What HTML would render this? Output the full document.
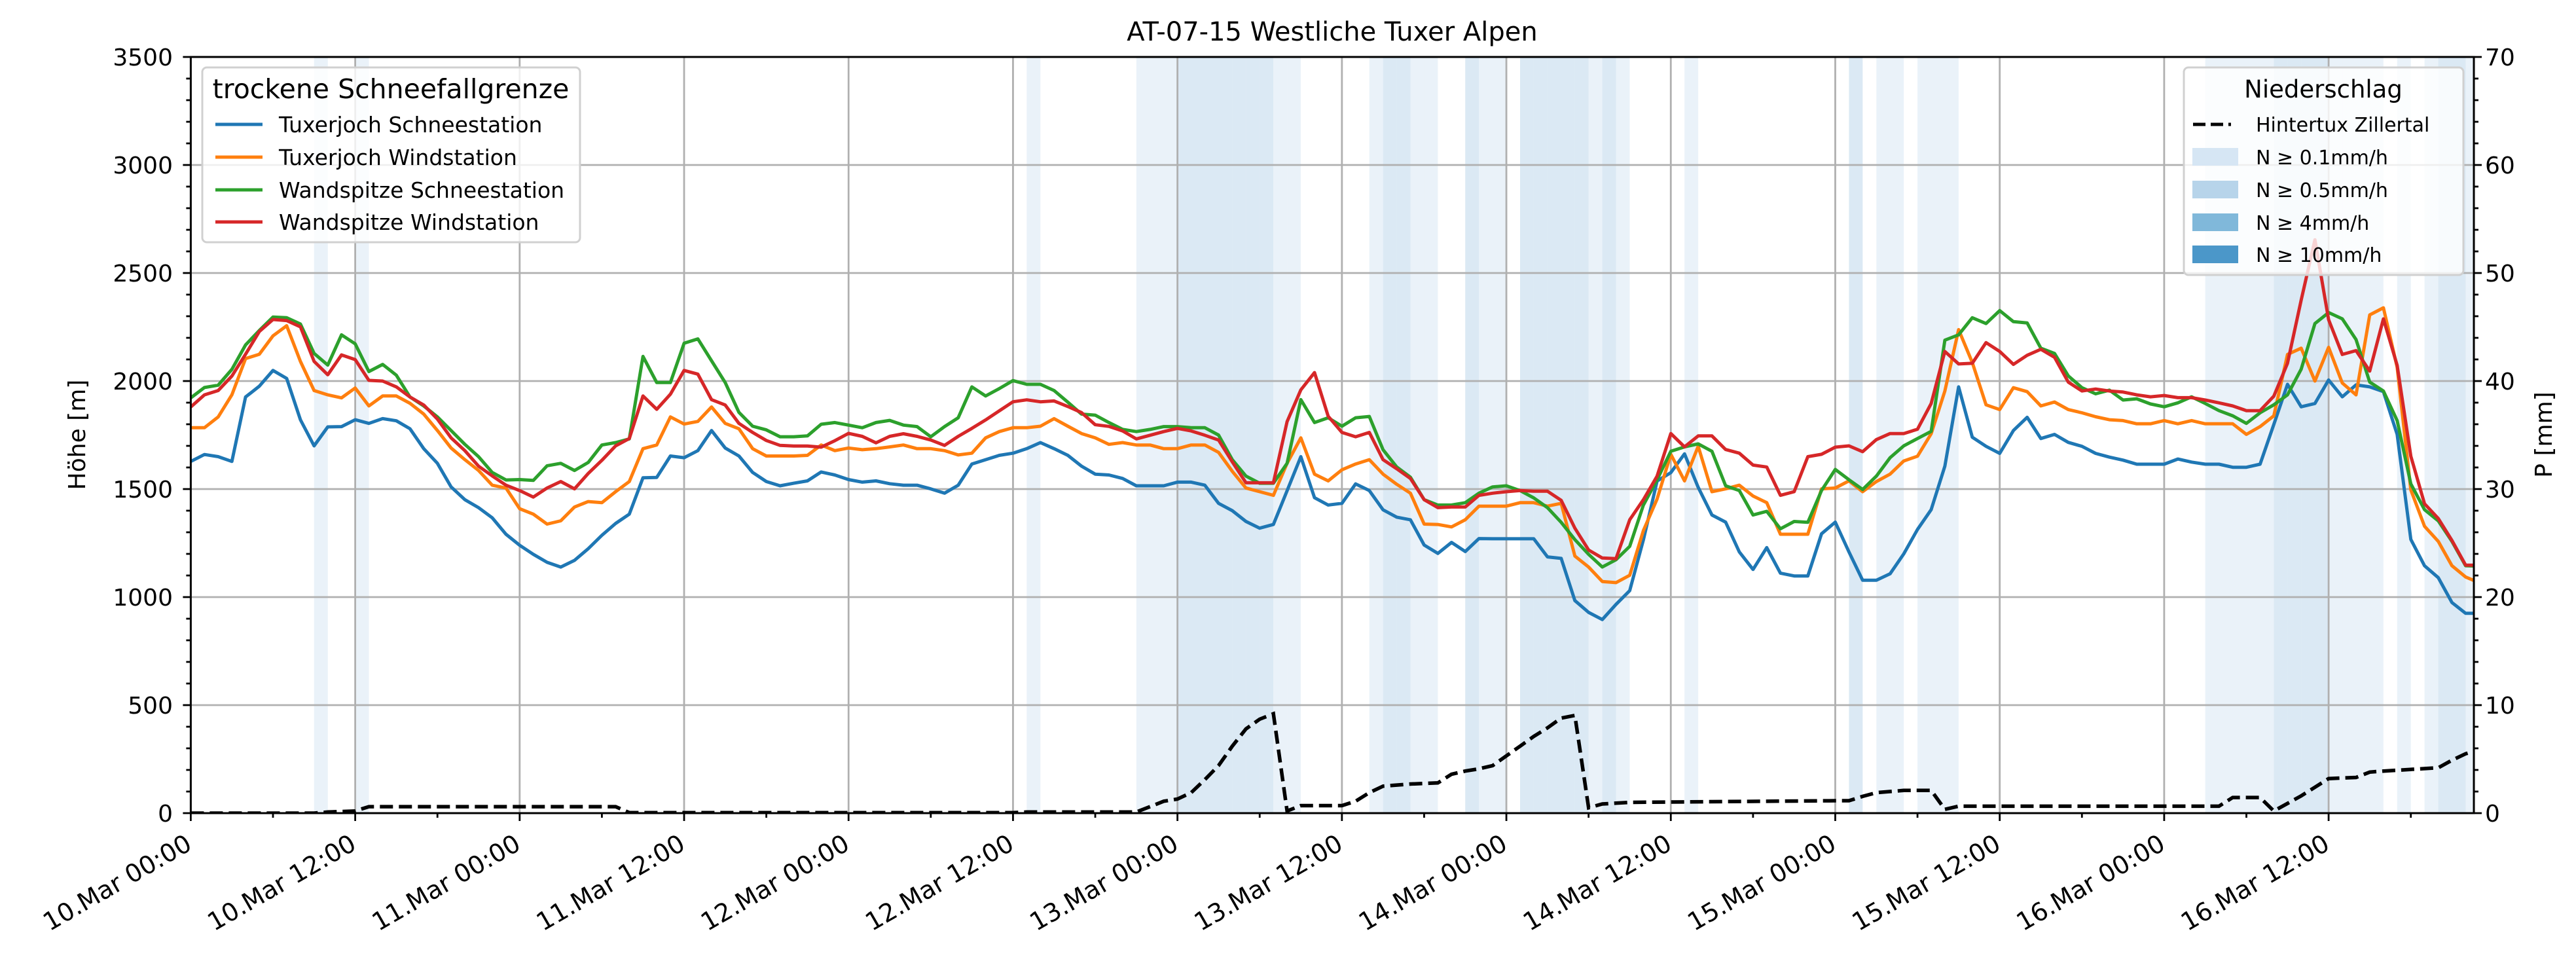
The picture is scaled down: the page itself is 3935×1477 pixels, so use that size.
<!DOCTYPE html>
<html><head><meta charset="utf-8"><style>
html,body{margin:0;padding:0;background:#fff;}
svg{display:block;font-family:"DejaVu Sans","Liberation Sans",sans-serif;}
</style></head><body>
<svg id="chart" width="3935" height="1477" viewBox="0 0 3935 1477" xmlns="http://www.w3.org/2000/svg">
<rect x="0" y="0" width="3935" height="1477" fill="#fff"/>
<defs><clipPath id="plotclip"><rect x="291.4" y="87" width="3487.6" height="1155"/></clipPath></defs>
<g id="bands" clip-path="url(#plotclip)"></g>
<g id="grid"></g>
<g id="series" clip-path="url(#plotclip)"></g>
<g id="axes"></g>
<text x="2035" y="62" font-size="40" text-anchor="middle">AT-07-15 Westliche Tuxer Alpen</text>
<text transform="translate(130,664) rotate(-90)" font-size="36" text-anchor="middle">Höhe [m]</text>
<text transform="translate(3898,664) rotate(-90)" font-size="36" text-anchor="middle">P [mm]</text>
<g id="legend-left">
<rect x="309" y="103" width="577" height="267" rx="7" fill="#fff" fill-opacity="0.8" stroke="#d0d0d0" stroke-width="3"/>
<text x="597" y="150" font-size="41" text-anchor="middle">trockene Schneefallgrenze</text>
<line x1="329" y1="190" x2="401" y2="190" stroke="#1f77b4" stroke-width="5"/>
<text x="426" y="202" font-size="33">Tuxerjoch Schneestation</text>
<line x1="329" y1="240" x2="401" y2="240" stroke="#ff7f0e" stroke-width="5"/>
<text x="426" y="252" font-size="33">Tuxerjoch Windstation</text>
<line x1="329" y1="290" x2="401" y2="290" stroke="#2ca02c" stroke-width="5"/>
<text x="426" y="302" font-size="33">Wandspitze Schneestation</text>
<line x1="329" y1="339" x2="401" y2="339" stroke="#d62728" stroke-width="5"/>
<text x="426" y="351" font-size="33">Wandspitze Windstation</text>
</g>
<g id="legend-right">
<rect x="3336" y="103" width="427" height="317" rx="7" fill="#fff" fill-opacity="0.8" stroke="#d0d0d0" stroke-width="3"/>
<text x="3549" y="149" font-size="37" text-anchor="middle">Niederschlag</text>
<line x1="3350" y1="190" x2="3408" y2="190" stroke="#000" stroke-width="5" stroke-dasharray="19,8"/>
<text x="3446" y="201" font-size="30">Hintertux Zillertal</text>
<rect x="3349" y="226" width="70" height="27" fill="#d6e6f4"/>
<text x="3446" y="251" font-size="30">N ≥ 0.1mm/h</text>
<rect x="3349" y="276" width="70" height="27" fill="#b7d4ea"/>
<text x="3446" y="301" font-size="30">N ≥ 0.5mm/h</text>
<rect x="3349" y="326" width="70" height="27" fill="#80b8da"/>
<text x="3446" y="351" font-size="30">N ≥ 4mm/h</text>
<rect x="3349" y="375" width="70" height="27" fill="#4b97c9"/>
<text x="3446" y="400" font-size="30">N ≥ 10mm/h</text>
</g>
</svg>
<script>
// ---- data ----
const tuxerjochSchnee = [1628,1660,1650,1628,1926,1976,2049,2012,1821,1700,1788,1789,1821,1804,1826,1816,1779,1687,1619,1510,1451,1414,1367,1291,1240,1198,1161,1139,1170,1224,1286,1341,1384,1552,1554,1653,1645,1678,1771,1690,1653,1577,1535,
1515,1527,1538,1579,1565,1544,1532,1538,1525,1518,1518,1501,1481,1518,1616,1636,1656,1666,1687,1715,1687,1656,1606,1569,1565,1549,1515,1515,1515,1532,1532,1518,1434,1400,1350,1319,1336,1492,1650,1460,1426,1434,
1524,1493,1404,1370,1358,1241,1202,1253,1211,1271,1270,1270,1270,1270,1186,1179,984,929,896,966,1030,1265,1537,1576,1663,1508,1380,1347,1209,1128,1229,1111,1098,1098,1293,1347,1209,1078,1078,1108,1200,
1313,1405,1606,1973,1740,1698,1665,1771,1832,1734,1753,1716,1698,1665,1648,1634,1615,1615,1615,1639,1625,1615,1615,1601,1601,1615,1799,1985,1881,1896,2005,1927,1982,1973,1951,1753,1267,1145,1090,975,925,925];
const tuxerjochWind = [1784,1784,1834,1936,2104,2124,2209,2256,2091,1956,1936,1922,1968,1885,1931,1931,1897,1847,1771,1690,1636,1586,1518,1505,1409,1384,1338,1353,1417,1442,1437,1488,1535,1687,1704,1834,1801,1813,1880,1804,1779,1687,1653,
1653,1653,1656,1704,1678,1690,1682,1687,1695,1704,1687,1687,1678,1658,1666,1737,1766,1784,1784,1791,1826,1791,1757,1737,1707,1715,1704,1704,1687,1687,1704,1704,1670,1582,1505,1488,1471,1619,1737,1569,1538,1589,
1616,1636,1569,1522,1481,1338,1336,1325,1358,1421,1421,1421,1437,1437,1421,1434,1190,1139,1072,1067,1101,1308,1454,1661,1538,1698,1488,1501,1518,1468,1437,1291,1291,1291,1501,1505,1538,1488,1535,1569,1630,
1652,1756,1954,2238,2086,1890,1868,1969,1951,1885,1903,1868,1853,1835,1821,1817,1802,1802,1817,1802,1817,1802,1802,1802,1753,1789,1839,2123,2152,2000,2156,1991,1936,2306,2339,2064,1496,1328,1258,1145,1093,1066];
const wandspitzeSchnee = [1922,1970,1981,2054,2167,2234,2296,2293,2264,2128,2074,2214,2172,2044,2077,2027,1926,1885,1834,1771,1707,1650,1577,1542,1544,1540,1608,1619,1586,1623,1704,1715,1732,2114,1993,1993,2175,2195,2094,1993,1855,1791,1774,
1742,1742,1746,1800,1808,1796,1784,1808,1818,1796,1789,1742,1789,1830,1973,1931,1965,2002,1985,1985,1956,1902,1847,1842,1808,1776,1766,1776,1789,1789,1784,1784,1750,1636,1560,1527,1527,1619,1914,1808,1830,1791,
1830,1836,1682,1602,1555,1451,1426,1426,1437,1481,1510,1515,1493,1459,1414,1346,1266,1198,1139,1173,1235,1426,1543,1675,1695,1709,1675,1515,1493,1380,1397,1316,1350,1346,1493,1591,1543,1498,1560,1645,1700,
1734,1767,2189,2214,2293,2266,2326,2275,2269,2152,2128,2024,1969,1941,1958,1912,1918,1894,1881,1899,1927,1896,1863,1839,1804,1853,1890,1936,2055,2266,2317,2288,2192,1995,1954,1817,1524,1405,1353,1258,1145,1143];
const wandspitzeWind = [1880,1936,1956,2023,2124,2229,2285,2280,2251,2091,2029,2121,2099,2003,2000,1973,1926,1889,1824,1737,1678,1606,1561,1518,1493,1463,1505,1535,1501,1572,1633,1700,1734,1931,1869,1939,2049,2032,1914,1889,1804,1762,1725,
1702,1699,1699,1694,1724,1758,1744,1714,1744,1756,1744,1727,1702,1744,1781,1820,1862,1904,1913,1904,1908,1882,1854,1798,1790,1769,1732,1749,1766,1781,1769,1749,1727,1626,1529,1529,1529,1812,1959,2039,1837,1762,
1742,1762,1636,1594,1549,1451,1414,1417,1417,1471,1481,1488,1493,1490,1490,1448,1319,1218,1181,1178,1358,1451,1560,1757,1695,1746,1746,1683,1666,1611,1602,1471,1488,1650,1661,1694,1700,1673,1729,1757,1757,
1777,1896,2137,2079,2082,2178,2137,2077,2119,2147,2110,1995,1954,1963,1954,1949,1936,1927,1933,1923,1923,1912,1899,1885,1863,1863,1930,2082,2375,2654,2284,2123,2141,2046,2288,2073,1652,1432,1364,1262,1148,1148];
const precipSumHours = [0,9,10,12,13,31,32,60,61,68,69,70,71,72,73,74,75,76,77,78,79,80,81,84,85,86,87,88,89,91,92,93,94,95,96,97,98,99,100,101,102,103,105,120,121,122,123,125,127,128,129,148,149,151,152,153,154,155,156,158,159,160,164,165,166,167];
const precipSumValues = [0,0,0.1,0.2,0.6,0.6,0.05,0.05,0.1,0.1,0.1,0.6,1.1,1.3,1.9,3.1,4.4,6.2,7.8,8.7,9.2,0.2,0.7,0.7,1.1,1.9,2.5,2.6,2.7,2.8,3.6,3.9,4.1,4.4,5.3,6.2,7.1,7.9,8.8,9.05,0.5,0.85,1.0,1.15,1.15,1.55,1.9,2.1,2.1,0.35,0.64,0.64,1.45,1.45,0.2,0.9,1.6,2.4,3.2,3.3,3.8,3.9,4.2,4.9,5.5,5.9];
const rainHours = [9,12,61,69,70,71,72,73,74,75,76,77,78,79,80,86,87,88,89,90,93,94,95,97,98,99,100,101,102,103,104,109,121,123,124,126,127,128,147,148,149,150,151,152,153,154,155,156,157,158,159,161,163,164,165,166];
const rainRates = [0.2,0.2,0.2,0.2,0.2,0.2,1,1,1,1,1,1,1,0.2,0.2,0.2,1,1,0.2,0.2,1,0.2,0.2,1,1,1,1,1,0.2,1,0.2,0.2,1,0.2,0.2,0.2,0.2,0.2,0.2,0.2,0.2,0.2,0.2,1,1,1,1,0.2,0.2,0.2,0.2,0.2,0.2,1,1,0.2];
const xTickLabels = ["10.Mar 00:00","10.Mar 12:00","11.Mar 00:00","11.Mar 12:00","12.Mar 00:00","12.Mar 12:00","13.Mar 00:00","13.Mar 12:00","14.Mar 00:00","14.Mar 12:00","15.Mar 00:00","15.Mar 12:00","16.Mar 00:00","16.Mar 12:00"];
const yTicks = [0,500,1000,1500,2000,2500,3000,3500];
const y2Ticks = [0,10,20,30,40,50,60,70];
const rainThresholds = [0.1,0.5,4,10];
const rainColors = ["#d6e6f4","#b7d4ea","#80b8da","#4b97c9"];

// ---- geometry ----
const L = 291.4, R = 3779, T = 87, B = 1242, XMAX = 166.6;
const xs = h => L + h * (R - L) / XMAX;
const ys = v => B - v * (B - T) / 3500;
const y2s = p => B - p * (B - T) / 70;
const NS = "http://www.w3.org/2000/svg";
function mk(tag, attrs, parent) {
  const e = document.createElementNS(NS, tag);
  for (const k in attrs) e.setAttribute(k, attrs[k]);
  parent.appendChild(e);
  return e;
}
const gB = document.getElementById("bands"), gG = document.getElementById("grid"),
      gS = document.getElementById("series"), gA = document.getElementById("axes");

// bands
rainHours.forEach((h, i) => {
  let c = -1;
  rainThresholds.forEach((t, k) => { if (rainRates[i] >= t) c = k; });
  if (c < 0) return;
  const r = mk("rect", {x: xs(h), y: T, width: xs(h + 1) - xs(h), height: B - T, fill: rainColors[c], "fill-opacity": 0.5}, gB);
  
  
});

// grid
xTickLabels.forEach((lab, i) => {
  const x = xs(i * 12);
  const g = mk("line", {x1: x, x2: x, y1: T, y2: B, stroke: "#b0b0b0", "stroke-width": 2.8}, gG);
  
  
});
yTicks.forEach(v => {
  const g = mk("line", {x1: L, x2: R, y1: ys(v), y2: ys(v), stroke: "#b0b0b0", "stroke-width": 2.8}, gG);
  
  
});

// series
function polyline(vals, color, name) {
  const pts = vals.map((v, h) => xs(h).toFixed(1) + "," + ys(v).toFixed(1)).join(" ");
  const p = mk("polyline", {points: pts, fill: "none", stroke: color, "stroke-width": 5, "stroke-linejoin": "round"}, gS);
  
  
}
polyline(tuxerjochSchnee, "#1f77b4", "line-tuxerjoch-schneestation");
polyline(tuxerjochWind, "#ff7f0e", "line-tuxerjoch-windstation");
polyline(wandspitzeSchnee, "#2ca02c", "line-wandspitze-schneestation");
polyline(wandspitzeWind, "#d62728", "line-wandspitze-windstation");
{
  const pts = precipSumHours.map((h, i) => xs(h).toFixed(1) + "," + y2s(precipSumValues[i]).toFixed(1)).join(" ");
  const p = mk("polyline", {points: pts, fill: "none", stroke: "#000", "stroke-width": 5.5, "stroke-dasharray": "20,9"}, gS);
  
  
}

// axes frame
const fr = mk("rect", {x: L, y: T, width: R - L, height: B - T, fill: "none", stroke: "#000", "stroke-width": 3}, gA);



// x ticks
for (let h = 0; h <= XMAX; h += 6) {
  const major = h % 12 === 0;
  const t = mk("line", {x1: xs(h), x2: xs(h), y1: B, y2: B + (major ? 12 : 7), stroke: "#000", "stroke-width": 2.8}, gA);
  
  
}
xTickLabels.forEach((lab, i) => {
  const x = xs(i * 12);
  const t = mk("text", {transform: `translate(${x + 4},1296) rotate(-30)`, "font-size": 38, "text-anchor": "end"}, gA);
  t.textContent = lab;
  
  
});
// left y ticks
for (let v = 0; v <= 3500; v += 100) {
  const major = v % 500 === 0;
  const t = mk("line", {x1: L - (major ? 12 : 7), x2: L, y1: ys(v), y2: ys(v), stroke: "#000", "stroke-width": 2.8}, gA);
  
  
}
yTicks.forEach(v => {
  const t = mk("text", {x: 264, y: ys(v) + 13, "font-size": 36, "text-anchor": "end"}, gA);
  t.textContent = String(v);
  
  
});
// right y ticks
for (let p = 0; p <= 70; p += 2) {
  const major = p % 10 === 0;
  const t = mk("line", {x1: R, x2: R + (major ? 12 : 7), y1: y2s(p), y2: y2s(p), stroke: "#000", "stroke-width": 2.8}, gA);
  
  
}
y2Ticks.forEach(p => {
  const t = mk("text", {x: 3796, y: y2s(p) + 13, "font-size": 36}, gA);
  t.textContent = String(p);
  
  
});
</script>
</body></html>
